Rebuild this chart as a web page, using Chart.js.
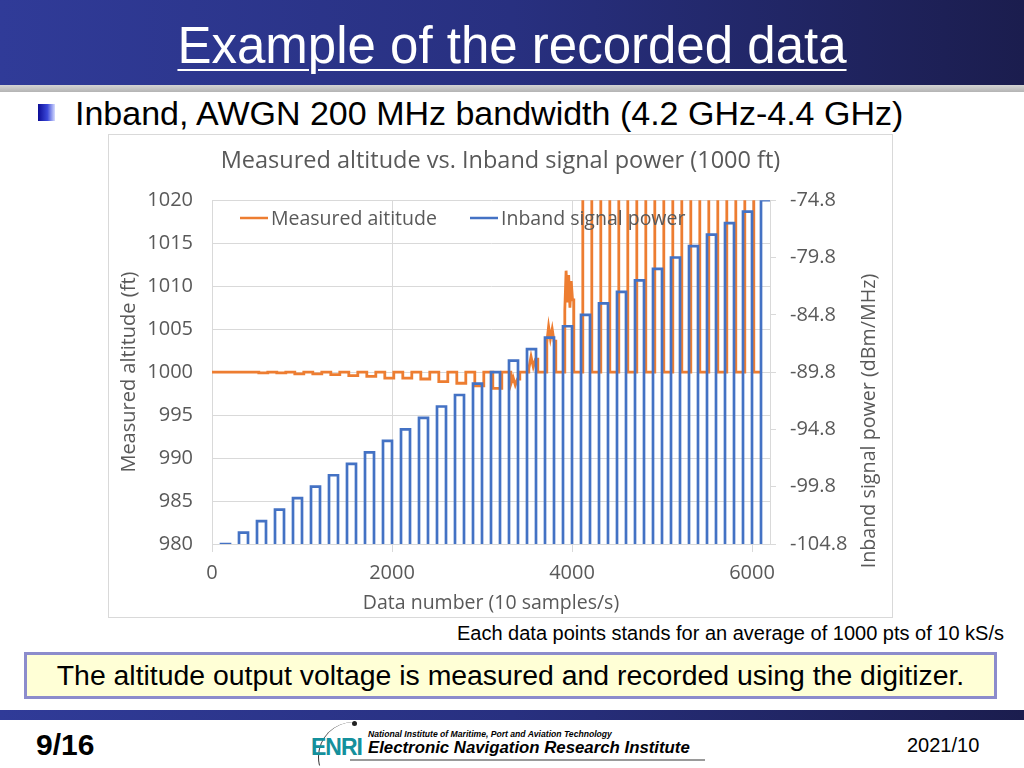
<!DOCTYPE html>
<html lang="en">

<head>
    <meta charset="UTF-8">
    <title>Example of the recorded data</title>
    <style>
        body {
            margin: 0;
            width: 1024px;
            height: 768px;
            position: relative;
            overflow: hidden;
            background: #fff;
            font-family: "Liberation Sans", Arial, sans-serif;
        }

        .header {
            position: absolute;
            left: 0;
            top: 0;
            width: 1024px;
            height: 85px;
            background: linear-gradient(90deg, #303b98 0%, #283080 50%, #1b1d4e 100%);
        }

        .header-strip {
            position: absolute;
            left: 0;
            top: 85px;
            width: 1024px;
            height: 7px;
            background: linear-gradient(#d4d4d4, #b4b4b4);
        }

        h1 {
            position: absolute;
            left: 0;
            top: 16px;
            width: 1024px;
            margin: 0;
            text-align: center;
            color: #fff;
            font-weight: normal;
            font-size: 51px;
            line-height: 60px;
            text-decoration: underline;
            text-decoration-thickness: 2px;
            text-underline-offset: 6px;
        }

        .bullet {
            position: absolute;
            left: 38px;
            top: 104px;
            width: 17px;
            height: 17px;
            background: linear-gradient(90deg, #0c0c96 0%, #3a48d8 55%, #d6dcff 100%);
        }

        .subtitle {
            position: absolute;
            left: 75px;
            top: 93px;
            font-size: 34px;
            line-height: 40px;
            color: #000;
        }

        .chart-box {
            position: absolute;
            left: 108px;
            top: 134px;
            border: 1px solid #d9d9d9;
            background: #fff;
        }

        canvas {
            display: block;
        }

        .caption {
            position: absolute;
            right: 20px;
            top: 621px;
            font-size: 20px;
            line-height: 24px;
        }

        .note {
            position: absolute;
            left: 24px;
            top: 652px;
            width: 967px;
            height: 41px;
            border: 3px solid #8c8ccc;
            background: #ffffd6;
            text-align: center;
            font-size: 28.4px;
            line-height: 41px;
        }

        .footer-bar {
            position: absolute;
            left: 0;
            top: 710px;
            width: 1024px;
            height: 10px;
            background: linear-gradient(90deg, #303b98 0%, #283080 50%, #1b1d4e 100%);
        }

        .page {
            position: absolute;
            left: 36px;
            top: 727px;
            font-size: 30px;
            font-weight: bold;
            line-height: 36px;
        }

        .date {
            position: absolute;
            left: 907px;
            top: 733px;
            font-size: 20px;
            line-height: 24px;
        }

        .logo-arc {
            position: absolute;
            left: 318px;
            top: 722px;
            width: 70px;
            height: 70px;
            border-left: 1.5px solid #333;
            border-radius: 50%;
            clip-path: polygon(0 0, 50% 0, 50% 62%, 0 62%);
        }

        .logo-dot {
            position: absolute;
            left: 352px;
            top: 721px;
            width: 5px;
            height: 5px;
            border-radius: 50%;
            background: #222;
        }

        .enri {
            position: absolute;
            left: 311px;
            top: 734px;
            font-size: 23px;
            font-weight: bold;
            color: #14909c;
            line-height: 26px;
            letter-spacing: -1px;
        }

        .nimpat {
            position: absolute;
            left: 368px;
            top: 729px;
            font-size: 8.6px;
            font-weight: bold;
            font-style: italic;
            line-height: 10px;
        }

        .enri-name {
            position: absolute;
            left: 368px;
            top: 738px;
            font-size: 16.8px;
            font-weight: bold;
            font-style: italic;
            line-height: 19px;
        }

        .logo-line {
            position: absolute;
            left: 350px;
            top: 759px;
            width: 355px;
            height: 2px;
            background: #9a9a9a;
        }
    </style>
</head>

<body>
    <div class="header"></div>
    <div class="header-strip"></div>
    <h1>Example of the recorded data</h1>

    <div class="bullet"></div>
    <div class="subtitle">Inband, AWGN 200 MHz bandwidth (4.2 GHz-4.4 GHz)</div>

    <div class="chart-box">
        <canvas id="altChart" width="783" height="482"></canvas>
    </div>

    <div class="caption">Each data points stands for an average of 1000 pts of 10 kS/s</div>
    <div class="note">The altitude output voltage is measured and recorded using the digitizer.</div>

    <div class="footer-bar"></div>
    <div class="page">9/16</div>
    <div class="logo-arc"></div>
    <div class="logo-dot"></div>
    <div class="enri">ENRI</div>
    <div class="nimpat">National Institute of Maritime, Port and Aviation Technology</div>
    <div class="enri-name">Electronic Navigation Research Institute</div>
    <div class="logo-line"></div>
    <div class="date">2021/10</div>

    <script src="https://cdn.jsdelivr.net/npm/chart.js"></script>
    <script>
        // data number where each power step is switched on, and how long it stays on
        const pulseStart = [100, 300, 500, 700, 900, 1100, 1300, 1500, 1700, 1900,
            2100, 2300, 2500, 2700, 2900, 3100, 3300, 3500, 3700, 3900,
            4100, 4300, 4500, 4700, 4900, 5100, 5300, 5500, 5700, 5900, 6100];
        const pulseLength = 100;

        // inband signal power of each step (dBm/MHz)
        const powerLevel = [-104.8, -103.8, -102.8, -101.8, -100.8, -99.8, -98.8, -97.8, -96.8, -95.8,
            -94.8, -93.8, -92.8, -91.8, -90.8, -89.8, -88.8, -87.8, -86.8, -85.8,
            -84.8, -83.8, -82.8, -81.8, -80.8, -79.8, -78.8, -77.8, -76.8, -75.8, -74.8];
        const powerOff = -120; // no interference, below the axis

        // measured altitude while each step is on (ft), several readings where it is noisy
        const altitudeOn = [
            [1000.0], [1000.0], [999.9], [999.9], [999.8], [999.8], [999.7], [999.6], [999.5], [999.3],
            [999.3], [999.2], [998.9], [998.7], [998.4], [998.1],
            [998.6, 999.4, 998.5, 999.2],
            [1000.4, 1001.8, 1000.6, 1001.5],
            [1003.4, 1005.3, 1003.9, 1005.0, 1003.6],
            [1007.2, 1011.8, 1008.1, 1011.3, 1007.5, 1010.6, 1008.4],
            [1030], [1030], [1030], [1030], [1030], [1030], [1030], [1030], [1030], [1030]
        ];
        const altitudeOff = 1000.0;
        const altitudeLag = 20;
        const altitudeEnd = 6100;

        const xTicks = [0, 2000, 4000, 6000];
        const altTicks = [980, 985, 990, 995, 1000, 1005, 1010, 1015, 1020];
        const powerTicks = [-104.8, -99.8, -94.8, -89.8, -84.8, -79.8, -74.8];

        const textColor = '#595959';
        const gridColor = '#d9d9d9';
        const chartFont = '"Open Sans", "Noto Sans", sans-serif';

        // step curves
        const powerPoints = [{ x: 0, y: powerOff }];
        pulseStart.forEach((s, i) => {
            powerPoints.push({ x: s, y: powerOff }, { x: s, y: powerLevel[i] }, { x: s + pulseLength, y: powerLevel[i] });
            if (i < pulseStart.length - 1) powerPoints.push({ x: s + pulseLength, y: powerOff });
        });

        const altitudePoints = [{ x: 0, y: altitudeOff }];
        altitudeOn.forEach((vals, i) => {
            const a = pulseStart[i] + altitudeLag;
            const b = a + pulseLength;
            altitudePoints.push({ x: a, y: altitudeOff });
            vals.forEach((v, j) => {
                altitudePoints.push({ x: a + pulseLength * j / vals.length, y: v });
            });
            altitudePoints.push({ x: b, y: vals[vals.length - 1] }, { x: b, y: altitudeOff });
        });
        altitudePoints.push({ x: altitudeEnd, y: altitudeOff });

        const overlayText = {
            id: 'overlayText',
            afterDatasetsDraw(chart) {
                const ctx = chart.ctx;
                ctx.save();
                // legend, drawn inside the plot like the original
                const items = [
                    { label: 'Measured aititude', color: '#ed7d31', x: 131 },
                    { label: 'Inband signal power', color: '#4472c4', x: 361 }
                ];
                const ly = 83;
                ctx.font = '19.5px ' + chartFont;
                ctx.textBaseline = 'middle';
                ctx.textAlign = 'left';
                items.forEach(it => {
                    ctx.strokeStyle = it.color;
                    ctx.lineWidth = 2.5;
                    ctx.beginPath();
                    ctx.moveTo(it.x, ly);
                    ctx.lineTo(it.x + 28, ly);
                    ctx.stroke();
                    ctx.fillStyle = textColor;
                    ctx.fillText(it.label, it.x + 31, ly + 1);
                });
                // right axis title, reading bottom to top
                ctx.translate(760, 286);
                ctx.rotate(-Math.PI / 2);
                ctx.textAlign = 'center';
                ctx.font = '19.7px ' + chartFont;
                ctx.fillText('Inband signal power (dBm/MHz)', 0, 0);
                ctx.restore();
            }
        };

        const config = {
            type: 'line',
            data: {
                datasets: [{
                    label: 'Inband signal power',
                    data: powerPoints,
                    yAxisID: 'yPow',
                    borderColor: '#4472c4',
                    borderWidth: 2.7,
                    pointRadius: 0,
                    order: 0
                }, {
                    label: 'Measured aititude',
                    data: altitudePoints,
                    yAxisID: 'yAlt',
                    borderColor: '#ed7d31',
                    borderWidth: 2.8,
                    pointRadius: 0,
                    order: 1
                }]
            },
            options: {
                responsive: false,
                animation: false,
                layout: { padding: 0 },
                scales: {
                    x: {
                        type: 'linear',
                        min: 0,
                        max: 6200,
                        afterBuildTicks: s => { s.ticks = xTicks.map(v => ({ value: v })); },
                        afterFit: s => { s.height = 73; },
                        ticks: { color: textColor, padding: 9, font: { family: chartFont, size: 20 }, callback: v => String(v) },
                        grid: { color: gridColor, tickLength: 8 },
                        border: { color: gridColor },
                        title: {
                            display: true,
                            text: 'Data number (10 samples/s)',
                            color: textColor,
                            font: { family: chartFont, size: 19.5 },
                            padding: { top: 0, bottom: 2.3 }
                        }
                    },
                    yAlt: {
                        position: 'left',
                        min: 980,
                        max: 1020,
                        afterBuildTicks: s => { s.ticks = altTicks.map(v => ({ value: v })); },
                        afterFit: s => { s.width = 103; },
                        ticks: { color: textColor, padding: 19, font: { family: chartFont, size: 20 }, callback: v => String(v) },
                        grid: { color: gridColor, drawTicks: false },
                        border: { color: gridColor },
                        title: {
                            display: true,
                            text: 'Measured altitude (ft)',
                            color: textColor,
                            font: { family: chartFont, size: 20 },
                            padding: { top: 8, bottom: 0 }
                        }
                    },
                    yPow: {
                        position: 'right',
                        min: -104.8,
                        max: -74.8,
                        afterBuildTicks: s => { s.ticks = powerTicks.map(v => ({ value: v })); },
                        afterFit: s => { s.width = 122; },
                        ticks: {
                            color: textColor,
                            padding: 14,
                            font: { family: chartFont, size: 20 },
                            callback: v => v.toFixed(1)
                        },
                        grid: { color: gridColor, drawOnChartArea: false, tickLength: 6 },
                        border: { color: gridColor }
                    }
                },
                plugins: {
                    legend: { display: false },
                    tooltip: { enabled: false },
                    title: {
                        display: true,
                        text: 'Measured altitude vs. Inband signal power (1000 ft)',
                        color: textColor,
                        font: { family: chartFont, size: 23.5, weight: 'normal' },
                        padding: { top: 12, bottom: 25 }
                    }
                }
            },
            plugins: [overlayText]
        };

        const altChart = new Chart(document.getElementById('altChart'), config);
    </script>
</body>

</html>
